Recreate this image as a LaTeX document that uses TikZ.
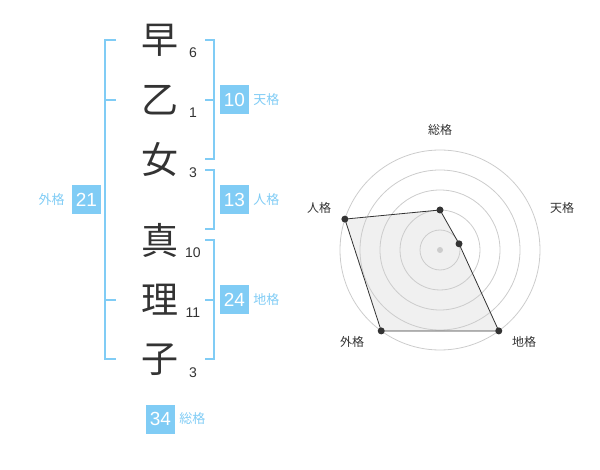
\documentclass[tikz,border=0pt]{standalone}
\usepackage{fontspec}
\setmainfont{Liberation Sans}
\newfontfamily\jpfont{Noto Sans CJK JP}
\usetikzlibrary{positioning}
\definecolor{kakublue}{HTML}{80CCF5}
\definecolor{inkgray}{HTML}{333333}

\begin{document}
\begin{tikzpicture}[x=1pt,y=-1pt,
  kanji/.style={text=inkgray,inner sep=0pt,font=\jpfont\fontsize{37}{37}\selectfont},
  strokes/.style={text=inkgray,inner sep=0pt,font=\fontsize{14}{14}\selectfont},
  kakubox/.style={fill=kakublue,text=white,minimum size=29pt,inner sep=0pt,font=\fontsize{19}{19}\selectfont},
  kakuname/.style={text=kakublue,inner sep=0pt,font=\jpfont\fontsize{13}{13}\selectfont},
  bracket/.style={draw=kakublue,line width=2pt},
  ring/.style={draw=black!20,line width=0.8pt},
  axisname/.style={text=inkgray,inner sep=0pt,font=\jpfont\fontsize{12}{12}\selectfont}]
  \useasboundingbox (0,0) rectangle (600,470);

  % name and strokes
  \node[kanji] (k1) at (160,40) {早};
  \node[kanji] (k2) at (160,100) {乙};
  \node[kanji] (k3) at (160,160) {女};
  \node[kanji] (k4) at (160,240) {真};
  \node[kanji] (k5) at (160,300) {理};
  \node[kanji] (k6) at (160,360) {子};
  \node[strokes] (s1) at (193,53) {6};
  \node[strokes] (s2) at (193,113) {1};
  \node[strokes] (s3) at (193,173) {3};
  \node[strokes] (s4) at (193,253) {10};
  \node[strokes] (s5) at (193,313) {11};
  \node[strokes] (s6) at (193,373) {3};

  % brackets
  \draw[bracket] (116,40) -- (105,40) -- (105,359) -- (116,359);
  \draw[bracket] (105,100) -- (116,100);
  \draw[bracket] (105,300) -- (116,300);
  \draw[bracket] (205,40) -- (214,40) -- (214,159) -- (205,159);
  \draw[bracket] (205,100) -- (214,100);
  \draw[bracket] (205,170) -- (214,170) -- (214,229) -- (205,229);
  \draw[bracket] (205,240) -- (214,240) -- (214,359) -- (205,359);
  \draw[bracket] (205,300) -- (214,300);

  % kaku boxes
  \node[kakubox] (ten) at (234.5,100) {10};
  \node[kakuname,right=4pt of ten] (ten-l) {天格};
  \node[kakubox] (jin) at (234.5,200) {13};
  \node[kakuname,right=4pt of jin] (jin-l) {人格};
  \node[kakubox] (chi) at (234.5,300) {24};
  \node[kakuname,right=4pt of chi] (chi-l) {地格};
  \node[kakubox] (gai) at (86.5,200) {21};
  \node[kakuname,left=7pt of gai] (gai-l) {外格};
  \node[kakubox] (sou) at (160.5,419) {34};
  \node[kakuname,right=4pt of sou] (sou-l) {総格};

  % radar chart
  \coordinate (c) at (440,250);
  \path (c) ++(-90:40) coordinate (r-sou);
  \path (c) ++(-18:20) coordinate (r-ten);
  \path (c) ++(54:100) coordinate (r-chi);
  \path (c) ++(126:100) coordinate (r-gai);
  \path (c) ++(198:100) coordinate (r-jin);
  \fill[black!6] (r-sou) -- (r-ten) -- (r-chi) -- (r-gai) -- (r-jin) -- cycle;
  \foreach \r in {20,40,...,100}
    \draw[ring] (c) circle[radius=\r pt];
  \fill[black!20] (c) circle[radius=3pt];
  \draw[inkgray,line width=0.8pt]
    (r-sou) -- (r-ten) -- (r-chi) -- (r-gai) -- (r-jin) -- cycle;
  \foreach \p in {r-sou,r-ten,r-chi,r-gai,r-jin}
    \fill[inkgray] (\p) circle[radius=3.5pt];
  \node[axisname] (a-sou) at (440,130) {総格};
  \node[axisname] (a-ten) at (562,208) {天格};
  \node[axisname] (a-jin) at (319,208) {人格};
  \node[axisname] (a-gai) at (352,342) {外格};
  \node[axisname] (a-chi) at (524,342) {地格};
\end{tikzpicture}
\end{document}
